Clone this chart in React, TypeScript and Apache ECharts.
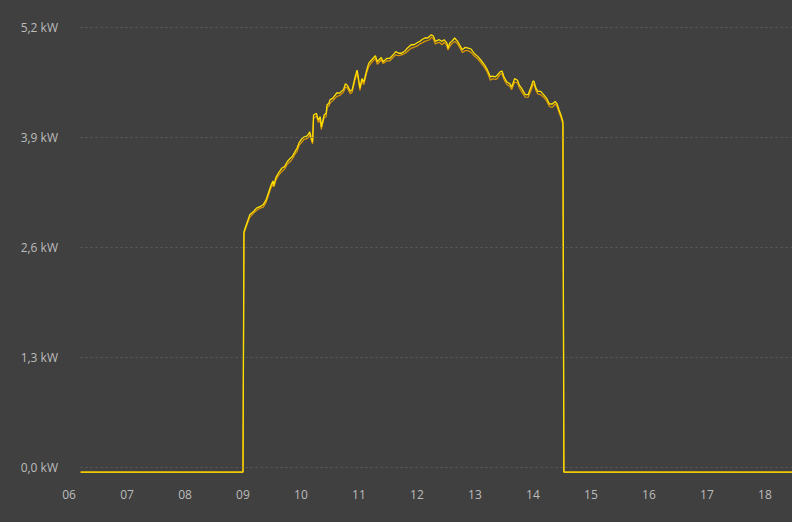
import React, { useEffect, useRef } from "react";
import * as echarts from "echarts";

const times = [
  "06:12", "09:00", "09:01", "09:04", "09:07", "09:11", "09:14", "09:18", "09:21", "09:24",
  "09:26", "09:29", "09:31", "09:32", "09:34", "09:37", "09:40", "09:43", "09:46", "09:49",
  "09:51", "09:54", "09:56", "09:58", "10:01", "10:03", "10:06", "10:08", "10:09", "10:12",
  "10:13", "10:16", "10:18", "10:20", "10:21", "10:24", "10:26", "10:27", "10:29", "10:30",
  "10:33", "10:37", "10:40", "10:44", "10:46", "10:48", "10:51", "10:53", "10:56", "10:58",
  "10:59", "11:01", "11:03", "11:05", "11:08", "11:10", "11:13", "11:17", "11:19", "11:23",
  "11:25", "11:29", "11:32", "11:36", "11:38", "11:41", "11:44", "11:48", "11:50", "11:54",
  "11:57", "12:01", "12:03", "12:05", "12:08", "12:11", "12:13", "12:15", "12:17", "12:19",
  "12:23", "12:26", "12:28", "12:31", "12:32", "12:34", "12:36", "12:39", "12:42", "12:44",
  "12:47", "12:50", "12:53", "12:56", "12:59", "13:03", "13:06", "13:10", "13:13", "13:16",
  "13:18", "13:21", "13:23", "13:26", "13:28", "13:30", "13:33", "13:36", "13:38", "13:41",
  "13:44", "13:46", "13:48", "13:52", "13:55", "13:58", "14:00", "14:01", "14:03", "14:05",
  "14:08", "14:11", "14:14", "14:17", "14:20", "14:23", "14:25", "14:27", "14:29", "14:31",
  "14:32", "18:28",
];

const yellowKw = [
  -0.06, -0.06, 2.78, 2.88, 2.98, 3.02, 3.06, 3.08, 3.10, 3.16,
  3.23, 3.33, 3.38, 3.33, 3.42, 3.48, 3.53, 3.55, 3.61, 3.65,
  3.67, 3.73, 3.77, 3.83, 3.88, 3.90, 3.91, 3.94, 3.96, 3.84,
  4.16, 4.18, 4.10, 4.14, 4.02, 4.16, 4.18, 4.28, 4.30, 4.34,
  4.36, 4.42, 4.42, 4.46, 4.53, 4.51, 4.44, 4.46, 4.61, 4.69,
  4.63, 4.48, 4.59, 4.55, 4.69, 4.77, 4.81, 4.86, 4.79, 4.84,
  4.79, 4.83, 4.83, 4.88, 4.91, 4.89, 4.89, 4.92, 4.95, 4.99,
  4.99, 5.02, 5.03, 5.05, 5.07, 5.07, 5.09, 5.11, 5.09, 5.03,
  5.05, 5.03, 5.05, 5.01, 4.95, 5.01, 5.03, 5.07, 5.03, 4.99,
  4.93, 4.96, 4.95, 4.94, 4.89, 4.85, 4.81, 4.75, 4.69, 4.61,
  4.62, 4.61, 4.63, 4.67, 4.68, 4.61, 4.55, 4.53, 4.49, 4.59,
  4.57, 4.51, 4.48, 4.40, 4.40, 4.49, 4.56, 4.56, 4.48, 4.44,
  4.44, 4.40, 4.36, 4.29, 4.29, 4.32, 4.29, 4.22, 4.16, 4.08,
  -0.06, -0.06,
];

const orangeKw = [
  -0.06, -0.06, 2.76, 2.86, 2.95, 3.00, 3.03, 3.06, 3.07, 3.13,
  3.20, 3.30, 3.34, 3.31, 3.39, 3.45, 3.49, 3.52, 3.58, 3.61,
  3.64, 3.70, 3.73, 3.80, 3.84, 3.87, 3.88, 3.90, 3.93, 3.82,
  4.12, 4.15, 4.07, 4.11, 3.99, 4.13, 4.14, 4.25, 4.27, 4.30,
  4.33, 4.38, 4.39, 4.43, 4.49, 4.48, 4.41, 4.43, 4.58, 4.65,
  4.60, 4.45, 4.56, 4.52, 4.66, 4.73, 4.78, 4.83, 4.76, 4.81,
  4.77, 4.80, 4.80, 4.85, 4.87, 4.86, 4.87, 4.89, 4.91, 4.95,
  4.96, 4.98, 5.00, 5.01, 5.03, 5.04, 5.05, 5.08, 5.06, 5.00,
  5.02, 4.99, 5.02, 4.98, 4.93, 4.97, 5.00, 5.03, 5.00, 4.96,
  4.90, 4.92, 4.92, 4.90, 4.86, 4.82, 4.78, 4.72, 4.66, 4.57,
  4.59, 4.58, 4.59, 4.64, 4.65, 4.58, 4.52, 4.50, 4.46, 4.55,
  4.54, 4.48, 4.44, 4.37, 4.37, 4.45, 4.52, 4.53, 4.45, 4.41,
  4.40, 4.37, 4.33, 4.26, 4.25, 4.29, 4.26, 4.19, 4.13, 4.05,
  -0.06, -0.06,
];

const yTicks = [0, 1.3, 2.6, 3.9, 5.2];
const xStart = "06:00";
const xEnd = "18:28";
const gridStart = "06:12";

const toHours = (t: string) => {
  const [h, m] = t.split(":").map(Number);
  return h + m / 60;
};

export default function App() {
  const ref = useRef<HTMLDivElement>(null);

  useEffect(() => {
    if (!ref.current) return;
    const chart = echarts.init(ref.current, undefined, { renderer: "svg" });
    const xMin = toHours(xStart);
    const xMax = toHours(xEnd);
    const g0 = toHours(gridStart);
    const labelColor = "#bcbcbc";
    const font = "'Open Sans', 'Noto Sans', sans-serif";

    chart.setOption({
      animation: false,
      backgroundColor: "#404040",
      grid: { left: 69, right: 0, top: 27, bottom: 55, containLabel: false },
      xAxis: {
        type: "value",
        min: xMin,
        max: xMax,
        interval: 1,
        axisLine: { show: false },
        axisTick: { show: false },
        splitLine: { show: false },
        axisLabel: {
          color: labelColor,
          fontSize: 12,
          fontFamily: font,
          margin: 21,
          showMaxLabel: false,
          formatter: (v: number) =>
            Math.abs(v - Math.round(v)) < 1e-6 ? String(Math.round(v)).padStart(2, "0") : "",
        },
      },
      yAxis: {
        type: "value",
        min: 0,
        max: 5.2,
        interval: 1.3,
        axisLine: { show: false },
        axisTick: { show: false },
        splitLine: { show: false },
        axisLabel: {
          color: labelColor,
          fontSize: 12,
          fontFamily: font,
          margin: 11,
          formatter: (v: number) => v.toFixed(1).replace(".", ",") + " kW",
        },
      },
      series: [
        {
          type: "line",
          name: "grid",
          data: [],
          silent: true,
          markLine: {
            silent: true,
            symbol: "none",
            label: { show: false },
            lineStyle: { color: "#5c5c5c", type: [2, 3], width: 1 },
            data: yTicks.map((v) => [{ coord: [g0, v] }, { coord: [xMax, v] }]),
          },
        },
        {
          type: "line",
          name: "orange",
          showSymbol: false,
          clip: false,
          lineStyle: { color: "#e09a00", width: 1.2 },
          itemStyle: { color: "#e09a00" },
          data: times.map((t, i) => [toHours(t), orangeKw[i]]),
        },
        {
          type: "line",
          name: "yellow",
          showSymbol: false,
          clip: false,
          lineStyle: { color: "#ffe000", width: 1.3 },
          itemStyle: { color: "#ffe000" },
          data: times.map((t, i) => [toHours(t), yellowKw[i]]),
        },
      ],
    });
    return () => chart.dispose();
  }, []);

  return (
    <div
      ref={ref}
      style={{ position: "fixed", left: 0, top: 0, width: 792, height: 522, background: "#404040" }}
    />
  );
}
